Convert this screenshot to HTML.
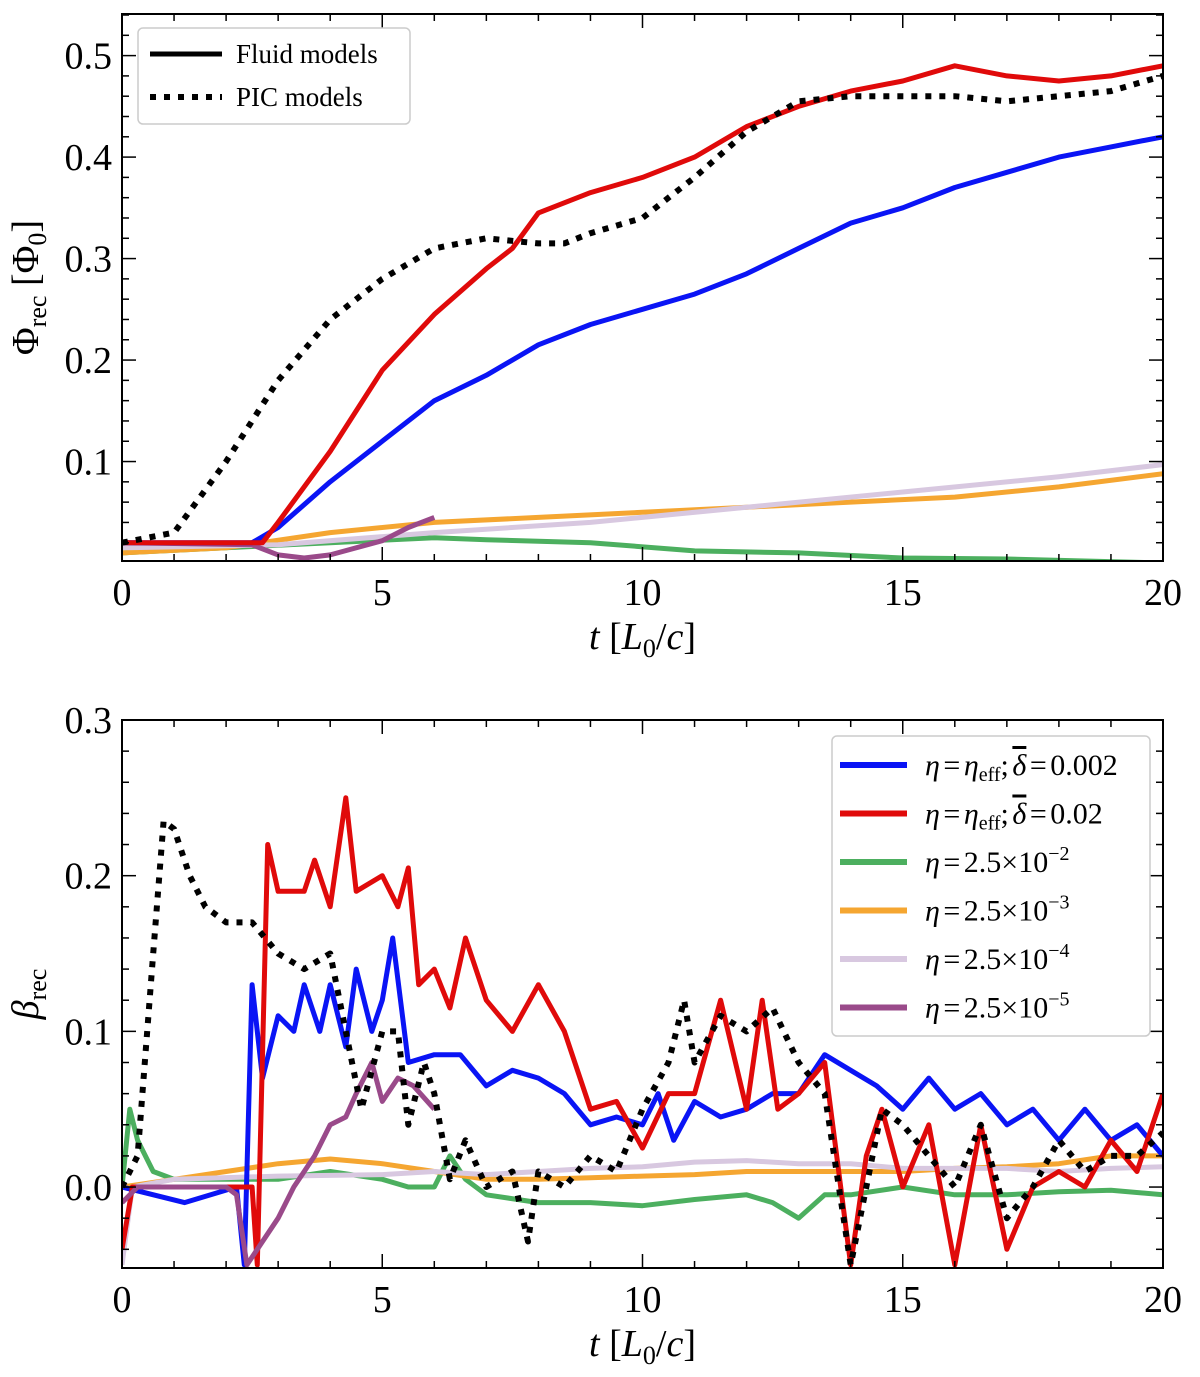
<!DOCTYPE html>
<html><head><meta charset="utf-8"><style>
body{margin:0;background:#fff}
svg{display:block;font-family:"Liberation Serif",serif}
</style></head><body>
<svg id="fig" width="1200" height="1377" viewBox="0 0 1200 1377" xmlns="http://www.w3.org/2000/svg">
<defs>
<clipPath id="c1"><rect x="122" y="14" width="1041" height="547"/></clipPath>
<clipPath id="c2"><rect x="122" y="720" width="1041" height="548"/></clipPath>
</defs>
<g id="top"></g>
<g id="bot"></g>
</svg>
<script>
const COLORS={blue:"#0a14f5",red:"#e00a0a",green:"#4caf5f",orange:"#f5a631",lav:"#d8c8e0",purple:"#9a4a8a",black:"#000"};
// Top panel data
const topBlueT=[0,2.5,3,4,5,6,7,8,9,10,11,12,13,14,15,16,17,18,19,20];
const topBlueV=[0.02,0.02,0.035,0.08,0.12,0.16,0.185,0.215,0.235,0.25,0.265,0.285,0.31,0.335,0.35,0.37,0.385,0.4,0.41,0.42];
const topRedT=[0,2.7,3,4,5,6,7,7.5,8,9,10,11,12,13,14,15,16,17,18,19,20];
const topRedV=[0.02,0.02,0.04,0.11,0.19,0.245,0.29,0.31,0.345,0.365,0.38,0.4,0.43,0.45,0.465,0.475,0.49,0.48,0.475,0.48,0.49];
const topPicT=[0,1,2,3,4,5,6,7,8,8.5,9,10,11,12,13,14,15,16,17,18,19,20];
const topPicV=[0.02,0.03,0.1,0.18,0.24,0.28,0.31,0.32,0.315,0.315,0.325,0.34,0.38,0.425,0.455,0.46,0.46,0.46,0.455,0.46,0.465,0.48];
const topGreenT=[0,2,4,6,7,9,11,13,15,17,20];
const topGreenV=[0.01,0.015,0.02,0.025,0.023,0.02,0.012,0.01,0.005,0.004,0.0];
const topOrangeT=[0,2,4,6,8,10,12,14,16,18,20];
const topOrangeV=[0.01,0.015,0.03,0.04,0.045,0.05,0.055,0.06,0.065,0.075,0.088];
const topLavT=[0,3,6,9,12,15,18,20];
const topLavV=[0.015,0.018,0.03,0.04,0.055,0.07,0.085,0.097];
const topPurT=[0,2.5,3,3.5,4,5,5.5,6];
const topPurV=[0.02,0.018,0.008,0.005,0.008,0.022,0.035,0.045];
// Bottom panel data
const botBlueT=[0,1.2,2.2,2.35,2.5,2.7,3,3.3,3.5,3.8,4,4.3,4.5,4.8,5,5.2,5.5,6,6.5,7,7.5,8,8.5,9,9.5,10,10.3,10.6,11,11.5,12,12.5,13,13.5,14,14.5,15,15.5,16,16.5,17,17.5,18,18.5,19,19.5,20];
const botBlueV=[0,-0.01,0,-0.05,0.13,0.07,0.11,0.1,0.13,0.1,0.13,0.09,0.14,0.1,0.12,0.16,0.08,0.085,0.085,0.065,0.075,0.07,0.06,0.04,0.045,0.04,0.06,0.03,0.055,0.045,0.05,0.06,0.06,0.085,0.075,0.065,0.05,0.07,0.05,0.06,0.04,0.05,0.03,0.05,0.03,0.04,0.02];
const botRedT=[0,0.2,2.5,2.6,2.8,3,3.5,3.7,4,4.3,4.5,5,5.3,5.5,5.7,6,6.3,6.6,7,7.5,8,8.5,9,9.5,10,10.5,11,11.5,12,12.3,12.6,13,13.5,14,14.3,14.6,15,15.5,16,16.5,17,17.5,18,18.5,19,19.5,20];
const botRedV=[-0.04,0,0,-0.05,0.22,0.19,0.19,0.21,0.18,0.25,0.19,0.2,0.18,0.205,0.13,0.14,0.115,0.16,0.12,0.1,0.13,0.1,0.05,0.055,0.025,0.06,0.06,0.12,0.05,0.12,0.05,0.06,0.08,-0.05,0.02,0.05,0,0.04,-0.05,0.04,-0.04,0,0.01,0,0.03,0.01,0.06];
const botPicT=[0,0.3,0.6,0.8,1,1.3,1.6,2,2.5,3,3.5,4,4.3,4.6,5,5.3,5.5,5.8,6,6.3,6.6,7,7.5,7.8,8,8.5,9,9.5,10,10.5,10.8,11,11.5,12,12.5,13,13.5,14,14.3,14.6,15,15.5,16,16.5,17,17.5,18,18.5,19,19.5,20];
const botPicV=[0,0.02,0.15,0.235,0.23,0.2,0.18,0.17,0.17,0.15,0.14,0.15,0.1,0.05,0.1,0.1,0.04,0.08,0.06,0.005,0.03,0,0.01,-0.035,0.01,0,0.02,0.01,0.05,0.08,0.12,0.08,0.11,0.1,0.115,0.08,0.06,-0.05,0,0.05,0.04,0.02,0,0.04,-0.02,0,0.03,0.01,0.02,0.02,0.035];
const botGreenT=[0,0.15,0.3,0.6,1,2,3,4,5,5.5,6,6.3,6.6,7,8,9,10,11,12,12.5,13,13.5,14,15,16,17,18,19,20];
const botGreenV=[0,0.05,0.03,0.01,0.005,0.005,0.005,0.01,0.005,0,0,0.02,0.005,-0.005,-0.01,-0.01,-0.012,-0.008,-0.005,-0.01,-0.02,-0.005,-0.005,0,-0.005,-0.005,-0.003,-0.002,-0.005];
const botOrangeT=[0,1,2,3,4,5,6,7,8,9,10,11,12,13,14,15,16,17,18,19,20];
const botOrangeV=[0,0.005,0.01,0.015,0.018,0.015,0.01,0.005,0.005,0.006,0.007,0.008,0.01,0.01,0.01,0.01,0.012,0.013,0.015,0.02,0.02];
const botLavT=[0,0.2,1,3,5,6,7,8,9,10,11,12,13,14,15,16,17,18,19,20];
const botLavV=[-0.05,0,0.005,0.007,0.008,0.01,0.008,0.01,0.012,0.013,0.016,0.017,0.015,0.015,0.012,0.012,0.012,0.01,0.012,0.013];
const botPurT=[0,0.3,1,2,2.2,2.4,3,3.3,3.5,3.7,4,4.3,4.5,4.8,5,5.3,5.6,6];
const botPurV=[-0.01,0,0,0,-0.005,-0.05,-0.02,0,0.01,0.02,0.04,0.045,0.06,0.08,0.055,0.07,0.065,0.05];
const xTicks=[0,5,10,15,20];
const topYTicks=[0.1,0.2,0.3,0.4,0.5];
const botYTicks=[0.0,0.1,0.2,0.3];

const NS="http://www.w3.org/2000/svg";
function mk(tag,attrs,parent){const e=document.createElementNS(NS,tag);for(const k in attrs)e.setAttribute(k,attrs[k]);parent.appendChild(e);return e;}
function panel(g,box,ymin,ymax,yticks,yminor,clip){
  const X=v=>box.x+(v-0)/(20-0)*box.w;
  const Y=v=>box.y+box.h-(v-ymin)/(ymax-ymin)*box.h;
  return {X,Y,box,g,ymin,ymax,yticks,yminor,clip};
}
function axes(P,ylabelHTML){
  const {g,box,X,Y}=P;
  for(let t=0;t<=20;t+=1){const maj=t%5===0;const L=maj?14:7;
    let l=mk("line",{x1:X(t),x2:X(t),y1:box.y+box.h,y2:box.y+box.h-L,stroke:"#000","stroke-width":1.5},g);
    
    
    l=mk("line",{x1:X(t),x2:X(t),y1:box.y,y2:box.y+L,stroke:"#000","stroke-width":1.5},g);
    
    
  }
  for(let v=P.yminor[0];v<=P.ymax+1e-9;v+=P.yminor[1]){
    if(v<P.ymin-1e-9)continue;
    const isMaj=P.yticks.some(t=>Math.abs(t-v)<1e-6);const L=isMaj?14:7;
    let l=mk("line",{x1:box.x,x2:box.x+L,y1:Y(v),y2:Y(v),stroke:"#000","stroke-width":1.5},g);
    
    
    l=mk("line",{x1:box.x+box.w,x2:box.x+box.w-L,y1:Y(v),y2:Y(v),stroke:"#000","stroke-width":1.5},g);
    
    
  }
  xTicks.forEach(t=>{const tx=mk("text",{x:X(t),y:box.y+box.h+44,"font-size":38,"text-anchor":"middle"},g);tx.textContent=t;
    
    });
  P.yticks.forEach(t=>{const tx=mk("text",{x:box.x-10,y:Y(t)+13,"font-size":38,"text-anchor":"end"},g);tx.textContent=t.toFixed(1);
    
    });
  const xl=mk("text",{x:X(10),y:box.y+box.h+88,"font-size":38,"text-anchor":"middle"},g);
  xl.innerHTML='<tspan font-style="italic">t</tspan> [<tspan font-style="italic">L</tspan><tspan font-size="26" dy="8">0</tspan><tspan dy="-8">/</tspan><tspan font-style="italic">c</tspan>]';
  
  
  const yl=mk("text",{x:0,y:0,"font-size":38,"text-anchor":"middle",transform:`translate(${box.x-84},${box.y+box.h/2}) rotate(-90)`},g);
  yl.innerHTML=ylabelHTML;
  
  
}
function line(P,T,V,color,w,dash,name){
  const d=T.map((t,i)=>(i?"L":"M")+P.X(t).toFixed(1)+","+P.Y(V[i]).toFixed(1)).join("");
  const p=mk("path",{d,fill:"none",stroke:color,"stroke-width":w,"stroke-linejoin":"round","clip-path":`url(#${P.clip})`},P.g);
  if(dash)p.setAttribute("stroke-dasharray",dash);
  
  
}
const gT=document.getElementById("top"),gB=document.getElementById("bot");
const P1=panel(gT,{x:122,y:14,w:1041,h:547},0.002,0.541,topYTicks,[0.02,0.02],"c1");
const P2=panel(gB,{x:122,y:720,w:1041,h:548},-0.052,0.3,botYTicks,[-0.04,0.02],"c2");
[[P1,topGreenT,topGreenV,COLORS.green,"green"],[P1,topOrangeT,topOrangeV,COLORS.orange,"orange"],[P1,topLavT,topLavV,COLORS.lav,"lavender"],[P1,topPurT,topPurV,COLORS.purple,"purple"],[P1,topBlueT,topBlueV,COLORS.blue,"blue"],[P1,topRedT,topRedV,COLORS.red,"red"]].forEach(a=>line(a[0],a[1],a[2],a[3],5,null,"flux-line-"+a[4]));
line(P1,topPicT,topPicV,"#000",6,"6,8","flux-line-pic");
[[P2,botGreenT,botGreenV,COLORS.green,"green"],[P2,botOrangeT,botOrangeV,COLORS.orange,"orange"],[P2,botLavT,botLavV,COLORS.lav,"lavender"],[P2,botBlueT,botBlueV,COLORS.blue,"blue"],[P2,botRedT,botRedV,COLORS.red,"red"],[P2,botPurT,botPurV,COLORS.purple,"purple"]].forEach(a=>line(a[0],a[1],a[2],a[3],5,null,"beta-line-"+a[4]));
line(P2,botPicT,botPicV,"#000",6,"6,8","beta-line-pic");
[P1,P2].forEach(P=>{const r=mk("rect",{x:P.box.x,y:P.box.y,width:P.box.w,height:P.box.h,fill:"none",stroke:"#000","stroke-width":2},P.g);
  
  });
axes(P1,'Φ<tspan font-size="26" dy="8">rec</tspan><tspan dy="-8">  [Φ</tspan><tspan font-size="26" dy="8">0</tspan><tspan dy="-8">]</tspan>');
axes(P2,'<tspan font-style="italic">β</tspan><tspan font-size="26" dy="8">rec</tspan>');
// legends
const lg1=mk("g",{},gT);


mk("rect",{x:138,y:28,width:272,height:96,rx:5,fill:"#fff",stroke:"#ccc","stroke-width":1.5},lg1);
mk("line",{x1:150,x2:222,y1:54,y2:54,stroke:"#000","stroke-width":5},lg1);
mk("line",{x1:150,x2:222,y1:97,y2:97,stroke:"#000","stroke-width":6,"stroke-dasharray":"6,8"},lg1);
let t1=mk("text",{x:236,y:63,"font-size":27},lg1);t1.textContent="Fluid models";


t1=mk("text",{x:236,y:106,"font-size":27},lg1);t1.textContent="PIC models";


const lg2=mk("g",{},gB);


mk("rect",{x:832,y:736,width:318,height:300,rx:5,fill:"#fff",stroke:"#ccc","stroke-width":1.5},lg2);
const dl='<tspan font-style="italic" text-decoration="overline">δ</tspan>';
const labs=['<tspan font-style="italic">η</tspan> = <tspan font-style="italic">η</tspan><tspan font-size="20" dy="6">eff</tspan><tspan dy="-6">; </tspan>'+dl+' = 0.002',
'<tspan font-style="italic">η</tspan> = <tspan font-style="italic">η</tspan><tspan font-size="20" dy="6">eff</tspan><tspan dy="-6">; </tspan>'+dl+' = 0.02',
'<tspan font-style="italic">η</tspan> = 2.5×10<tspan font-size="20" dy="-12">−2</tspan>',
'<tspan font-style="italic">η</tspan> = 2.5×10<tspan font-size="20" dy="-12">−3</tspan>',
'<tspan font-style="italic">η</tspan> = 2.5×10<tspan font-size="20" dy="-12">−4</tspan>',
'<tspan font-style="italic">η</tspan> = 2.5×10<tspan font-size="20" dy="-12">−5</tspan>'];
const lc=[COLORS.blue,COLORS.red,COLORS.green,COLORS.orange,COLORS.lav,COLORS.purple];
labs.forEach((s,i)=>{const y=765+i*48.5;
  const l=mk("line",{x1:840,x2:907,y1:y,y2:y,stroke:lc[i],"stroke-width":6},lg2);
  
  
  const t=mk("text",{x:925,y:y+10,"font-size":30,"word-spacing":"-4"},lg2);t.innerHTML=s;
  
  });
</script>
</body></html>
